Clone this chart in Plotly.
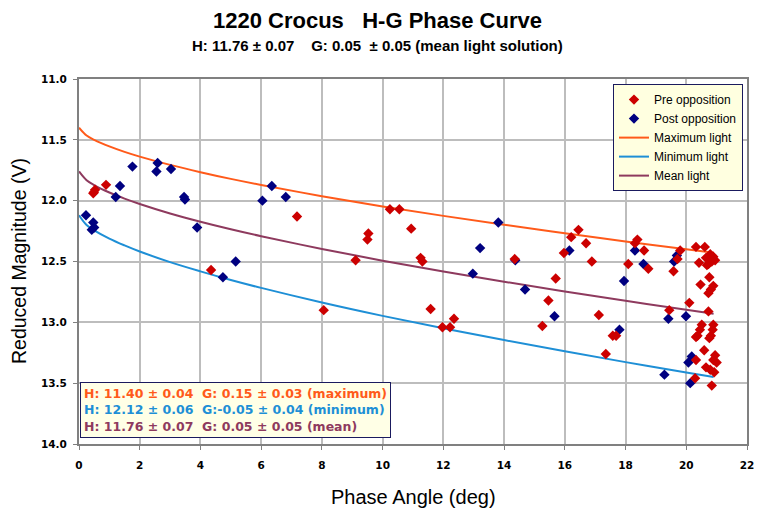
import plotly.graph_objects as go

# ---- data ----
pre_phase = [0.47, 0.53, 0.49, 0.89, 4.35, 7.18, 8.06, 9.11, 9.53, 9.50, 10.24, 10.55,
             10.94, 11.25, 11.31, 11.58, 11.97, 12.22, 12.35, 14.35, 15.26, 15.46, 15.70,
             15.97, 16.21, 16.45, 16.70, 16.89, 17.12, 17.35, 17.58, 17.69, 18.09, 18.31,
             18.39, 18.61, 18.75, 19.44, 19.58, 19.71, 19.80, 20.10, 20.32, 20.61,
             20.42, 20.65, 20.79, 20.89, 20.95, 20.73, 20.84, 20.68,
             20.47, 20.76, 20.89, 20.81, 20.73, 20.73,
             20.51, 20.45, 20.37, 20.32, 20.89, 20.87, 20.81, 20.76,
             20.59, 20.95, 20.89, 21.00, 20.65, 20.79, 20.92, 20.32, 20.29, 20.84]
pre_mag = [11.94, 11.91, 11.93, 11.87, 12.57, 12.13, 12.90, 12.49, 12.27, 12.32, 12.07, 12.07,
           12.23, 12.47, 12.50, 12.89, 13.04, 13.04, 12.97, 12.48, 13.03, 12.82, 12.64,
           12.43, 12.30, 12.24, 12.35, 12.50, 12.94, 13.26, 13.11, 13.11, 12.52, 12.35,
           12.32, 12.41, 12.56, 12.90, 12.58, 12.48, 12.41, 12.84, 12.38, 12.38,
           12.51, 12.47, 12.44, 12.46, 12.49, 12.52, 12.50, 12.53,
           12.69, 12.63, 12.70, 12.73, 12.76, 12.91,
           13.02, 13.06, 13.11, 13.12, 13.02, 13.06, 13.11, 13.13,
           13.23, 13.27, 13.31, 13.33, 13.37, 13.39, 13.41, 13.31, 13.46, 13.52]

post_phase = [0.23, 0.47, 0.50, 0.42, 1.21, 1.35, 1.76, 2.59, 2.55, 3.03, 3.46, 3.49, 3.89,
              4.74, 5.16, 6.04, 6.35, 6.81, 12.97, 13.21, 13.81, 14.37, 14.69, 15.66, 16.15,
              17.80, 17.95, 18.31, 18.59, 19.28, 19.41, 19.60, 19.69, 19.99, 20.07, 20.18, 20.13]
post_mag = [12.12, 12.18, 12.22, 12.24, 11.97, 11.88, 11.72, 11.69, 11.76, 11.74, 11.97, 11.99, 12.22,
            12.63, 12.50, 12.00, 11.88, 11.97, 12.60, 12.39, 12.18, 12.49, 12.73, 12.95, 12.41,
            13.06, 12.66, 12.41, 12.52, 13.43, 12.97, 12.50, 12.45, 12.95, 13.33, 13.28, 13.50]

# fitted H-G curves, read at a set of phase angles
curve_phase = [0, 0.25, 0.5, 1, 1.5, 2, 3, 4, 5, 6, 8, 10, 12, 14, 16, 18, 20, 20.9]
max_light = [11.400, 11.465, 11.500, 11.554, 11.599, 11.638, 11.706, 11.766, 11.821, 11.871,
             11.963, 12.047, 12.125, 12.198, 12.268, 12.335, 12.400, 12.428]
min_light = [12.120, 12.200, 12.244, 12.312, 12.368, 12.418, 12.505, 12.581, 12.652, 12.717,
             12.837, 12.947, 13.049, 13.146, 13.238, 13.327, 13.413, 13.450]
mean_light = [11.760, 11.832, 11.872, 11.933, 11.983, 12.027, 12.105, 12.173, 12.235, 12.292,
              12.397, 12.493, 12.582, 12.666, 12.746, 12.823, 12.896, 12.929]

x_ticks = [0, 2, 4, 6, 8, 10, 12, 14, 16, 18, 20, 22]
y_ticks = [11.0, 11.5, 12.0, 12.5, 13.0, 13.5, 14.0]

title_text = "1220 Crocus\u00a0\u00a0\u00a0H-G Phase Curve"
subtitle_text = "H: 11.76 \u00b1 0.07\u00a0\u00a0\u00a0\u00a0G: 0.05\u00a0\u00a0\u00b1 0.05 (mean light solution)"
fit_texts = ["H: 11.40 \u00b1 0.04\u00a0\u00a0G: 0.15 \u00b1 0.03 (maximum)",
             "H: 12.12 \u00b1 0.06\u00a0\u00a0G:-0.05 \u00b1 0.04 (minimum)",
             "H: 11.76 \u00b1 0.07\u00a0\u00a0G: 0.05 \u00b1 0.05 (mean)"]

RED = "#CC0000"
NAVY = "#000080"
ORANGE = "#FF5A1A"
LBLUE = "#1E8FD6"
MAUVE = "#8E3A5E"
fit_colors = [ORANGE, LBLUE, MAUVE]

fig = go.Figure()
fig.add_trace(go.Scatter(x=curve_phase, y=max_light, mode="lines", name="Maximum light",
                         line=dict(color=ORANGE, width=2, shape="spline"), legendrank=3))
fig.add_trace(go.Scatter(x=curve_phase, y=min_light, mode="lines", name="Minimum light",
                         line=dict(color=LBLUE, width=2, shape="spline"), legendrank=4))
fig.add_trace(go.Scatter(x=curve_phase, y=mean_light, mode="lines", name="Mean light",
                         line=dict(color=MAUVE, width=2, shape="spline"), legendrank=5))
fig.add_trace(go.Scatter(x=post_phase, y=post_mag, mode="markers", name="Post opposition",
                         marker=dict(symbol="diamond", size=8, color=NAVY), legendrank=2))
fig.add_trace(go.Scatter(x=pre_phase, y=pre_mag, mode="markers", name="Pre opposition",
                         marker=dict(symbol="diamond", size=8, color=RED), legendrank=1))

tick_font = dict(family="DejaVu Sans", size=10.5, color="#000000", weight="bold")
fig.update_xaxes(range=[0, 22], tickvals=x_ticks, ticktext=[str(v) for v in x_ticks],
                 showgrid=True, gridcolor="#BDBDBD", gridwidth=1.5,
                 showline=True, linecolor="#808080", linewidth=2, mirror=True,
                 ticks="outside", ticklen=4, tickcolor="#808080",
                 tickfont=tick_font, zeroline=False, ticklabelstandoff=6, automargin=False)
fig.update_yaxes(range=[14.0, 11.0], tickvals=y_ticks, ticktext=["%.1f" % v for v in y_ticks],
                 showgrid=True, gridcolor="#BDBDBD", gridwidth=1.5,
                 showline=True, linecolor="#808080", linewidth=2, mirror=True,
                 ticks="outside", ticklen=4, tickcolor="#808080",
                 tickfont=tick_font, zeroline=False, ticklabelstandoff=4, automargin=False)

fit_html = "<br>".join("<span style='color:%s'><b>%s</b></span>" % (c, t)
                       for t, c in zip(fit_texts, fit_colors))

annotations = [
    dict(text="<b>%s</b>" % title_text, xref="paper", yref="paper", x=0.4476, y=1.1616,
         xanchor="center", yanchor="middle", showarrow=False,
         font=dict(family="Liberation Sans", size=22, color="#000000")),
    dict(text="<b>%s</b>" % subtitle_text, xref="paper", yref="paper", x=0.4476, y=1.093,
         xanchor="center", yanchor="middle", showarrow=False,
         font=dict(family="Liberation Sans", size=15, color="#000000")),
    dict(text="Reduced Magnitude (V)", xref="paper", yref="paper", x=-0.0905, y=0.5,
         xanchor="center", yanchor="middle", textangle=-90, showarrow=False,
         font=dict(family="Liberation Sans", size=19.5, color="#000000")),
    dict(text="Phase Angle (deg)", xref="paper", yref="paper", x=0.5, y=-0.145,
         xanchor="center", yanchor="middle", showarrow=False,
         font=dict(family="Liberation Sans", size=20, color="#000000")),
    dict(text=fit_html, xref="paper", yref="paper", x=0.0015, y=0.016,
         xanchor="left", yanchor="bottom", align="left", showarrow=False,
         bgcolor="#FFFFE6", bordercolor="#1A1A5E", borderwidth=1, borderpad=3,
         font=dict(family="DejaVu Sans", size=12.5, color="#000000")),
]

# the page body has an 8px margin, so the figure is sized/placed to compensate
fig.update_layout(
    width=754, height=511,
    margin=dict(l=71, r=15, t=71, b=75, autoexpand=False),
    paper_bgcolor="#FFFFFF", plot_bgcolor="#FFFFFF",
    annotations=annotations,
    showlegend=True,
    legend=dict(x=0.994, y=0.986, xanchor="right", yanchor="top",
                bgcolor="#FFFFE0", bordercolor="#1A1A5E", borderwidth=1,
                font=dict(family="Liberation Sans", size=12, color="#000000"),
                tracegroupgap=0, itemwidth=30),
)

fig.write_html("out.html")
